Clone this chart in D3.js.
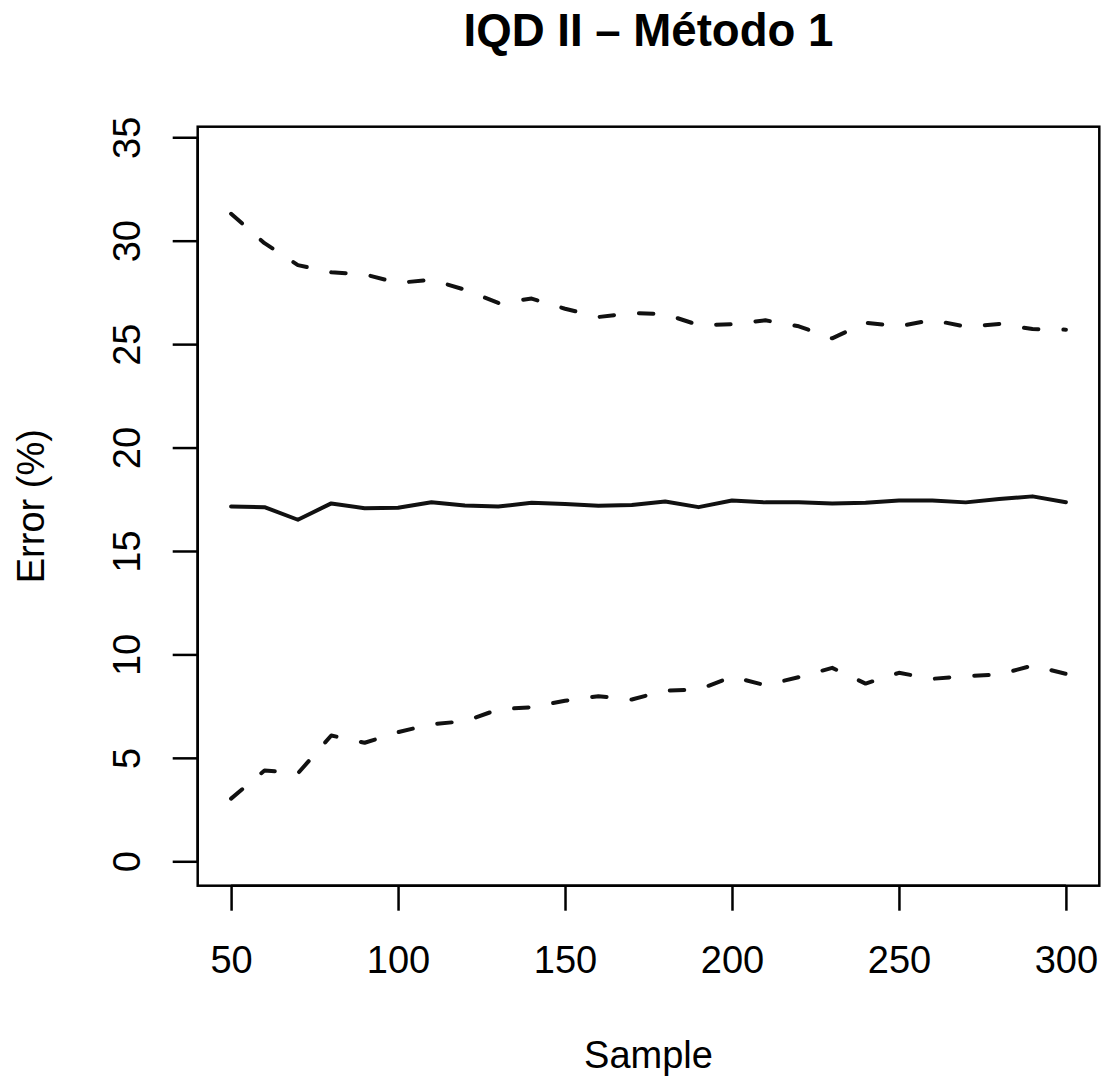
<!DOCTYPE html>
<html>
<head>
<meta charset="utf-8">
<script src="https://cdn.jsdelivr.net/npm/d3@7"></script>
<style>
  html, body { margin: 0; padding: 0; background: #fff; }
  svg { display: block; }
  text { font-family: "Liberation Sans", Arial, Helvetica, sans-serif; fill: #000; }
</style>
</head>
<body>
<svg id="chart" width="1106" height="1077"></svg>
<script>
// ---- data ----
const samples = [50, 60, 70, 80, 90, 100, 110, 120, 130, 140, 150, 160, 170, 180, 190, 200, 210, 220, 230, 240, 250, 260, 270, 280, 290, 300];
const meanError = [17.15, 17.12, 16.51, 17.3, 17.07, 17.09, 17.36, 17.2, 17.15, 17.33, 17.27, 17.19, 17.22, 17.39, 17.12, 17.44, 17.35, 17.35, 17.3, 17.33, 17.44, 17.44, 17.35, 17.51, 17.64, 17.36];
const upperError = [31.3, 29.88, 28.82, 28.47, 28.37, 27.96, 28.11, 27.63, 26.99, 27.2, 26.71, 26.31, 26.5, 26.45, 25.92, 25.96, 26.15, 25.86, 25.28, 26.03, 25.86, 26.17, 25.84, 25.97, 25.73, 25.7];
const lowerError = [3.03, 4.39, 4.25, 6.08, 5.73, 6.24, 6.63, 6.77, 7.34, 7.45, 7.76, 7.98, 7.82, 8.25, 8.3, 8.92, 8.51, 8.9, 9.35, 8.59, 9.11, 8.82, 8.95, 9.03, 9.46, 9.06];
const xTicks = [50, 100, 150, 200, 250, 300];
const yTicks = [0, 5, 10, 15, 20, 25, 30, 35];
const titleText = "IQD II \u2013 M\u00e9todo 1";
const xLabel = "Sample";
const yLabel = "Error (%)";

// ---- layout ----
const plot = { left: 197.7, right: 1099.3, top: 126.7, bottom: 885.7 };
const svg = d3.select("#chart");

const x = d3.scaleLinear().domain([40, 310]).range([plot.left, plot.right]);
const y = d3.scaleLinear().domain([-1.18, 35.51]).range([plot.bottom, plot.top]);

// title
svg.append("text")
  .attr("x", (plot.left + plot.right) / 2)
  .attr("y", 46)
  .attr("text-anchor", "middle")
  .style("font-size", "45.6px")
  .style("font-weight", "bold")
  .text(titleText);

// x axis
const xAxis = svg.append("g")
  .attr("transform", `translate(0,${plot.bottom})`)
  .call(d3.axisBottom(x).tickValues(xTicks).tickFormat(d3.format("d")).tickSize(25).tickSizeOuter(0));
xAxis.select(".domain")
  .attr("d", `M${x(xTicks[0])},0H${x(xTicks[xTicks.length - 1])}`)
  .attr("stroke", "#000").attr("stroke-width", 2.5);
xAxis.selectAll(".tick line").attr("stroke", "#000").attr("stroke-width", 2.5);
xAxis.selectAll(".tick text")
  .attr("y", 87.3).attr("dy", 0)
  .style("font-size", "38px").attr("fill", "#000");

// y axis
const yAxis = svg.append("g")
  .attr("transform", `translate(${plot.left},0)`)
  .call(d3.axisLeft(y).tickValues(yTicks).tickFormat(d3.format("d")).tickSize(25).tickSizeOuter(0));
yAxis.select(".domain")
  .attr("d", `M0,${y(yTicks[0])}V${y(yTicks[yTicks.length - 1])}`)
  .attr("stroke", "#000").attr("stroke-width", 2.5);
yAxis.selectAll(".tick line").attr("stroke", "#000").attr("stroke-width", 2.5);
yAxis.selectAll(".tick text")
  .attr("x", 0).attr("dy", 0)
  .attr("text-anchor", "middle")
  .attr("transform", `translate(${140 - plot.left},0) rotate(-90)`)
  .style("font-size", "38px").attr("fill", "#000");

// box
svg.append("rect")
  .attr("x", plot.left).attr("y", plot.top)
  .attr("width", plot.right - plot.left).attr("height", plot.bottom - plot.top)
  .attr("fill", "none").attr("stroke", "#000").attr("stroke-width", 2.5);

// axis labels
svg.append("text")
  .attr("x", (plot.left + plot.right) / 2)
  .attr("y", 1068)
  .attr("text-anchor", "middle")
  .style("font-size", "38px")
  .text(xLabel);

svg.append("text")
  .attr("transform", `translate(43.5,${(plot.top + plot.bottom) / 2}) rotate(-90)`)
  .attr("text-anchor", "middle")
  .style("font-size", "38px")
  .text(yLabel);

// lines
const line = d3.line().x((d, i) => x(samples[i])).y(d => y(d));

svg.append("path").datum(upperError)
  .attr("d", line).attr("fill", "none").attr("stroke", "#111")
  .attr("stroke-width", 4).attr("stroke-linecap", "round").attr("stroke-linejoin", "round")
  .attr("stroke-dasharray", "14.5 25");

svg.append("path").datum(meanError)
  .attr("d", line).attr("fill", "none").attr("stroke", "#111")
  .attr("stroke-width", 4).attr("stroke-linecap", "round").attr("stroke-linejoin", "round");

svg.append("path").datum(lowerError)
  .attr("d", line).attr("fill", "none").attr("stroke", "#111")
  .attr("stroke-width", 4).attr("stroke-linecap", "round").attr("stroke-linejoin", "round")
  .attr("stroke-dasharray", "14.5 25");
</script>
</body>
</html>
